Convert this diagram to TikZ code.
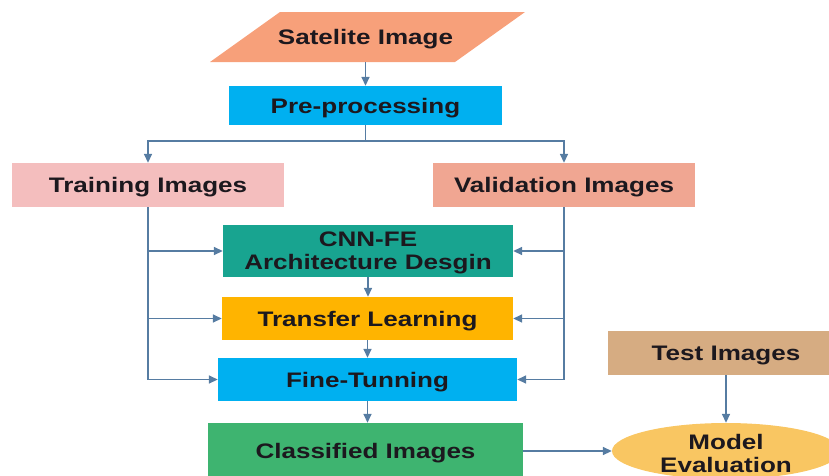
\documentclass[tikz,border=0pt]{standalone}
\usepackage{fontspec}
\setmainfont{Liberation Sans}[FakeStretch=1.24]
\usetikzlibrary{arrows.meta,shapes.geometric}
\definecolor{satc}{RGB}{247,160,122}
\definecolor{prec}{RGB}{0,176,240}
\definecolor{trainc}{RGB}{244,190,190}
\definecolor{valc}{RGB}{240,166,146}
\definecolor{cnnc}{RGB}{24,164,144}
\definecolor{tlc}{RGB}{255,180,0}
\definecolor{clsc}{RGB}{62,180,112}
\definecolor{testc}{RGB}{214,172,130}
\definecolor{mec}{RGB}{249,198,98}
\definecolor{linec}{RGB}{86,124,162}
\definecolor{txtc}{RGB}{28,24,30}
\tikzset{
  txtm/.style={font=\fontsize{21}{23}\selectfont\bfseries, text=txtc, align=center, inner sep=0pt},
  txt/.style={txtm, text height=15pt, text depth=0pt},
  boxnode/.style={txt, rectangle, minimum width=#1},
  arr/.style={draw=linec, line width=1.6pt, -{Triangle[length=9pt,width=8pt]}},
  ln/.style={draw=linec, line width=1.6pt}
}
\begin{document}
\begin{tikzpicture}[x=1pt,y=-1pt]
\useasboundingbox (0,0) rectangle (829,475);
\clip (0,0) rectangle (829,475);
% Satellite parallelogram
\fill[satc] (210,62) -- (455,62) -- (525,12) -- (280,12) -- cycle;
\node[txt, minimum width=250, minimum height=50] (sat) at (365.5,37) {Satelite Image};
\node[boxnode=273, minimum height=39, fill=prec] (pre) at (365.5,105.5) {Pre-processing};
\node[boxnode=272, minimum height=44, fill=trainc] (train) at (148,185) {Training Images};
\node[boxnode=262, minimum height=44, fill=valc] (val) at (564,185) {Validation Images};
\node[boxnode=290, minimum height=52, fill=cnnc] (cnn) at (368,251) {};
\node[txtm, yshift=-2pt] (cnntext) at (cnn.center) {CNN-FE\\Architecture Desgin};
\node[boxnode=291, minimum height=43, fill=tlc] (tl) at (367.5,318.5) {Transfer Learning};
\node[boxnode=299, minimum height=43, fill=prec] (ft) at (367.5,379.5) {Fine-Tunning};
\node[boxnode=315, minimum height=56, fill=clsc] (cls) at (365.5,451) {Classified Images};
\node[boxnode=236, minimum height=44, fill=testc] (test) at (726,353) {Test Images};
\node[ellipse, fill=mec, minimum width=228, minimum height=56, inner sep=0pt] (me) at (726,451) {};
\node[txtm, yshift=-2pt] (metext) at (me.center) {Model\\Evaluation};
\coordinate (split) at (365.5,141);
% connectors
\draw[arr] (sat.south) -- (pre.north);
\draw[ln] (pre.south) -- (split);
\draw[arr] (split) -| (train.north);
\draw[arr] (split) -| (val.north);
\draw[arr] (train.south) |- (cnn.west);
\draw[arr] (train.south) |- (tl.west);
\draw[arr] (train.south) |- (ft.west);
\draw[arr] (val.south) |- (cnn.east);
\draw[arr] (val.south) |- (tl.east);
\draw[arr] (val.south) |- (ft.east);
\draw[arr] (cnn.south) -- (cnn.south |- tl.north);
\draw[arr] (tl.south) -- (ft.north);
\draw[arr] (ft.south) -- (ft.south |- cls.north);
\draw[arr] (test.south) -- (me.north);
\draw[arr] (cls.east) -- (me.west);
\end{tikzpicture}
\end{document}
